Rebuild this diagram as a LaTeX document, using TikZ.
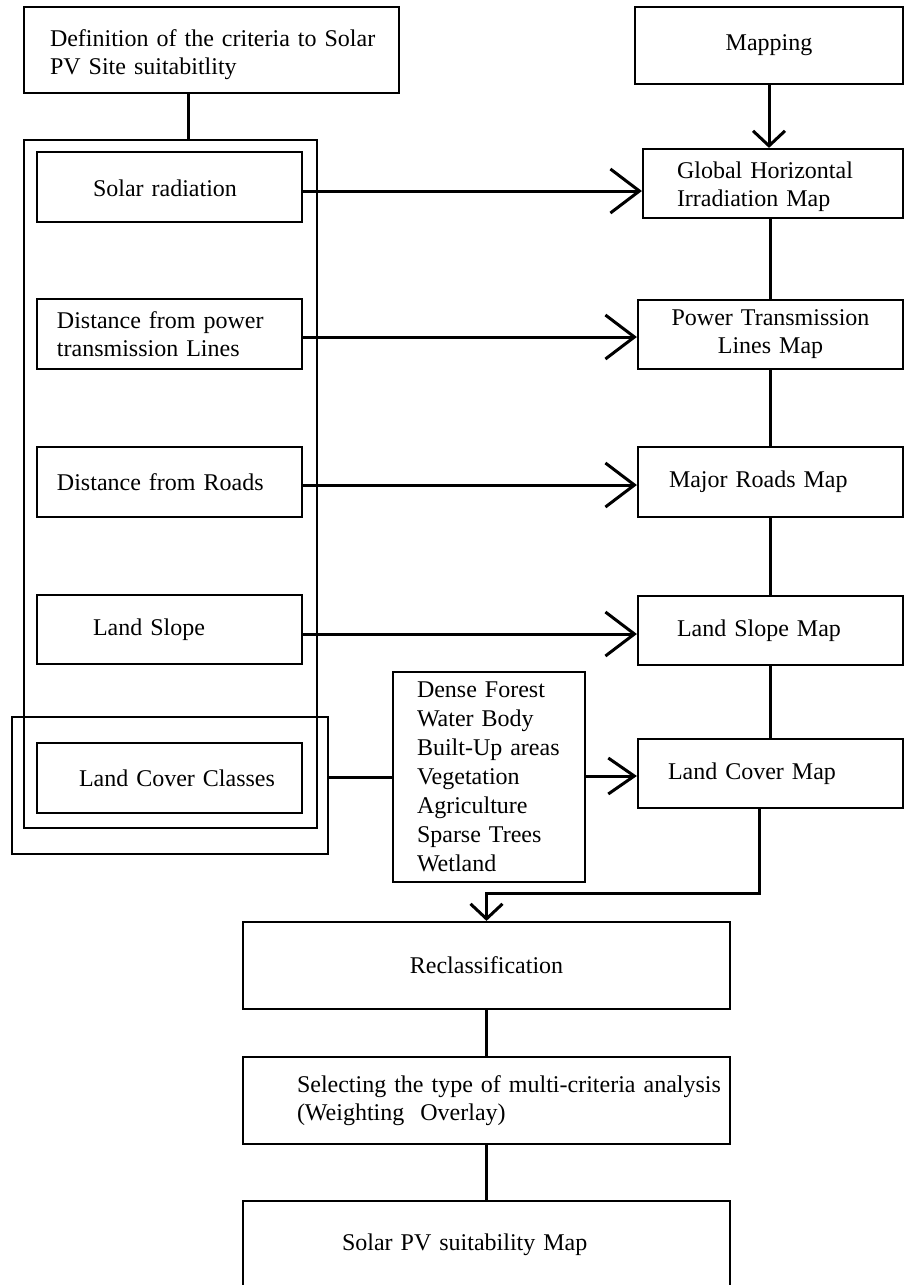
\documentclass[tikz,border=0pt]{standalone}
\usepackage{fontspec}
\setmainfont{Liberation Serif}
\usetikzlibrary{arrows.meta}
\begin{document}
\begin{tikzpicture}[x=1pt,y=-1pt,
  box/.style={draw, line width=2.2pt, inner xsep=0pt, inner ysep=0pt,
    font=\fontsize{24}{28}\selectfont, align=left},
  bx/.style n args={3}{box, minimum width=#1pt, minimum height=#2pt, text width=#1pt,
    execute at begin node={\leftskip=#3pt}},
  cbx/.style n args={2}{box, minimum width=#1pt, minimum height=#2pt, text width=#1pt, align=center},
  frame/.style n args={2}{draw, line width=2.2pt, inner sep=0pt, minimum width=#1pt, minimum height=#2pt},
  conn/.style={line width=3pt},
  harrow/.style={conn, -{Straight Barb[length=29pt,width=44pt]}},
  varrow/.style={conn, -{Straight Barb[length=15pt,width=32pt]}}
]
\useasboundingbox (0,0) rectangle (904,1285);

% left column
\node[bx={375}{86}{26}, text height=26pt] (def) at (211.5,50) {Definition of the criteria to Solar\\PV Site suitabitlity};
\node[frame={293}{688}] (outer) at (170.5,484) {};
\node[bx={265}{70}{56}, text height=20pt] (sr) at (169.5,187) {Solar radiation};
\node[bx={265}{70}{20}] (dp) at (169.5,334) {Distance from power\\transmission Lines};
\node[bx={265}{70}{20}] (dr) at (169.5,482) {Distance from Roads};
\node[bx={265}{69}{56}] (ls) at (169.5,629.5) {Land Slope};
\node[frame={316}{137}] (lco) at (170,785.5) {};
\node[bx={265}{70}{42}] (lcc) at (169.5,778) {Land Cover Classes};

% list
\node[bx={192}{210}{24}, font=\fontsize{24}{29}\selectfont] (list) at (489,777)
  {Dense Forest\\Water Body\\Built-Up areas\\Vegetation\\Agriculture\\Sparse Trees\\Wetland};

% right column
\node[cbx={268}{77}] (map) at (769,45.5) {Mapping};
\node[bx={260}{69}{34}, text height=24pt] (ghi) at (773,183.5) {Global Horizontal\\Irradiation Map};
\node[cbx={265}{69}] (ptl) at (770.5,334.5) {Power Transmission\\Lines Map};
\node[bx={265}{70}{31}] (mrm) at (770.5,482) {Major Roads Map};
\node[bx={265}{69}{39}] (lsm) at (770.5,630.5) {Land Slope Map};
\node[bx={265}{69}{30}] (lcm) at (770.5,773.5) {Land Cover Map};

% bottom column
\node[cbx={487}{87}] (rec) at (486.5,965.5) {Reclassification};
\node[bx={487}{87}{54}] (sel) at (486.5,1100.5) {Selecting the type of multi-criteria analysis\\(Weighting~~Overlay)};
\node[bx={487}{87}{99}] (spv) at (486.5,1244.5) {Solar PV suitability Map};

% connectors
\draw[conn] ([xshift=-23.5pt]def.south) -- ([xshift=-23.5pt]def.south |- outer.north);
\draw[varrow] (map.south) -- (map.south |- ghi.north);
\draw[harrow] ([yshift=-4pt]sr.east) -- ([yshift=-4pt]sr.east -| ghi.west);
\draw[harrow] ([yshift=-3pt]dp.east) -- ([yshift=-3pt]dp.east -| ptl.west);
\draw[harrow] ([yshift=-3pt]dr.east) -- ([yshift=-3pt]dr.east -| mrm.west);
\draw[harrow] ([yshift=-4.5pt]ls.east) -- ([yshift=-4.5pt]ls.east -| lsm.west);
\draw[conn] ([yshift=8.5pt]lco.east) -- ([yshift=8.5pt]lco.east -| list.west);
\draw[conn, -{Straight Barb[length=26pt,width=36pt]}] ([yshift=1pt]list.east) -- ([yshift=1pt]list.east -| lcm.west);
\draw[conn] (ptl.north |- ghi.south) -- (ptl.north);
\draw[conn] (ptl.south) -- (mrm.north);
\draw[conn] (mrm.south) -- (lsm.north);
\draw[conn] (lsm.south) -- (lcm.north);
\draw[varrow] ([xshift=-11.5pt]lcm.south) |- ([yshift=27pt]rec.north) -- (rec.north);
\draw[conn] (rec.south) -- (sel.north);
\draw[conn] (sel.south) -- (spv.north);
\end{tikzpicture}
\end{document}
